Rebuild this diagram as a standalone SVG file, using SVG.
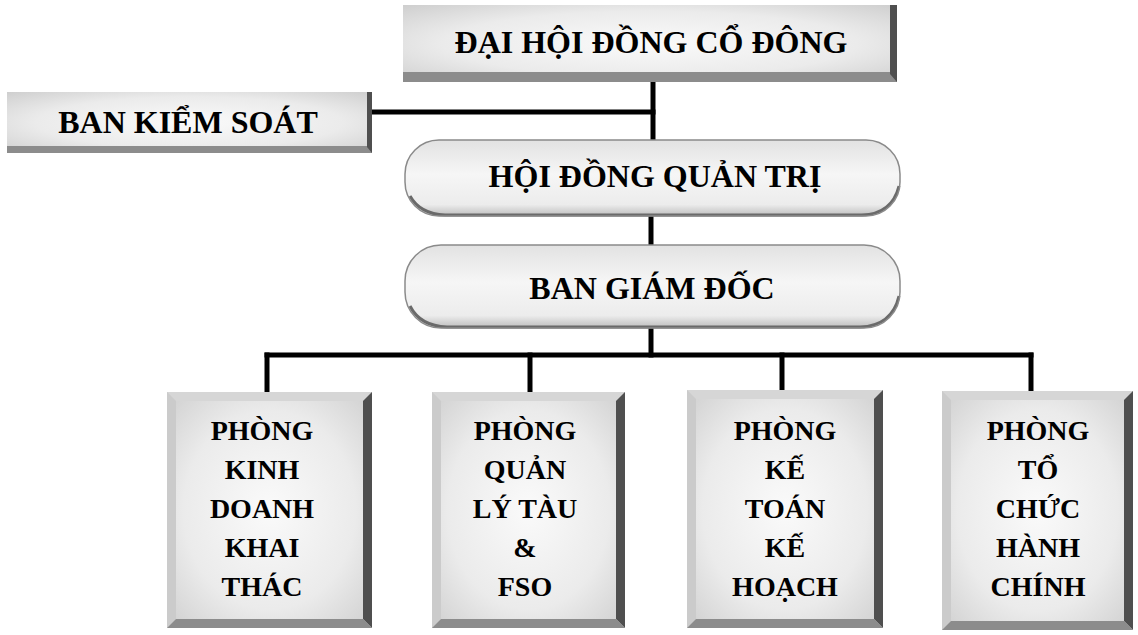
<svg xmlns="http://www.w3.org/2000/svg" width="1138" height="635" viewBox="0 0 1138 635">
  <defs>
    <radialGradient id="face" cx="50%" cy="50%" r="70%">
      <stop offset="0" stop-color="#fafafa"/>
      <stop offset="0.6" stop-color="#ebebeb"/>
      <stop offset="1" stop-color="#cfcfcf"/>
    </radialGradient>
    <linearGradient id="pillFace" x1="0" y1="0" x2="0" y2="1">
      <stop offset="0" stop-color="#e2e2e2"/>
      <stop offset="0.45" stop-color="#f6f6f6"/>
      <stop offset="0.85" stop-color="#ececec"/>
      <stop offset="1" stop-color="#bdbdbd"/>
    </linearGradient>
    <style>
      .t { font-family: "Liberation Serif", "Times New Roman", serif; font-weight: bold; fill: #000; text-anchor: middle; }
      .big { font-size: 32px; }
      .dept { font-size: 28px; }
      .wire { stroke: #000; stroke-width: 5; fill: none; stroke-linecap: square; }
      .bevTop { fill: #d6d6d6; }
      .bevLeft { fill: #cbcbcb; }
      .bevRight { fill: #4f4f4f; }
      .bevBottom { fill: #8c8c8c; }
      .pillEdge { fill: none; stroke: #8a8a8a; stroke-width: 1.5; }
      .pillShade { fill: none; stroke: #6a6a6a; stroke-width: 3; }
    </style>
  </defs>

  <rect width="1138" height="635" fill="#fff"/>

  <!-- connectors -->
  <g id="connectors">
    <path class="wire" d="M653 82 V140"/>
    <path class="wire" d="M372 112 H653"/>
    <path class="wire" d="M651 216 V245"/>
    <path class="wire" d="M651 328 V355"/>
    <path class="wire" d="M267 355 H1031"/>
    <path class="wire" d="M267 355 V392"/>
    <path class="wire" d="M530 355 V392"/>
    <path class="wire" d="M782 355 V390"/>
    <path class="wire" d="M1031 355 V391"/>
  </g>

  <!-- general shareholders meeting -->
  <g id="dhdcd">
    <rect x="403" y="5" width="494" height="77" fill="url(#face)"/>
    <rect x="403" y="72" width="494" height="10" class="bevBottom"/>
    <polygon points="890,5 897,5 897,82 890,74" class="bevRight"/>
    <text class="t big" x="651" y="53">ĐẠI HỘI ĐỒNG CỔ ĐÔNG</text>
  </g>

  <!-- supervisory board -->
  <g id="bks">
    <rect x="7" y="92" width="365" height="61" fill="url(#face)"/>
    <rect x="7" y="146" width="365" height="7" class="bevBottom"/>
    <polygon points="367,92 372,92 372,153 367,147" class="bevRight"/>
    <text class="t big" x="188" y="133">BAN KIỂM SOÁT</text>
  </g>

  <!-- board of directors -->
  <g id="hdqt">
    <rect x="405" y="140" width="495" height="76" rx="34" ry="34" fill="url(#pillFace)"/>
    <path class="pillShade" d="M410 196 Q420 214 445 215 H862 Q892 214 899 186"/>
    <rect x="405" y="140" width="495" height="76" rx="34" ry="34" class="pillEdge"/>
    <text class="t big" x="655" y="187">HỘI ĐỒNG QUẢN TRỊ</text>
  </g>

  <!-- management board -->
  <g id="bgd">
    <rect x="405" y="245" width="495" height="83" rx="36" ry="36" fill="url(#pillFace)"/>
    <path class="pillShade" d="M410 306 Q420 326 447 327 H860 Q892 326 899 296"/>
    <rect x="405" y="245" width="495" height="83" rx="36" ry="36" class="pillEdge"/>
    <text class="t big" x="652" y="299">BAN GIÁM ĐỐC</text>
  </g>

  <!-- departments -->
  <g id="p-kinhdoanh">
    <rect x="167" y="392" width="205" height="236" fill="url(#face)"/>
    <polygon points="167,392 372,392 363,401 176,401" class="bevTop"/>
    <polygon points="167,392 176,401 176,619 167,628" class="bevLeft"/>
    <polygon points="372,392 372,628 363,619 363,401" class="bevRight"/>
    <polygon points="167,628 176,619 363,619 372,628" class="bevBottom"/>
    <text class="t dept" x="262" y="440">PHÒNG</text>
    <text class="t dept" x="262" y="479">KINH</text>
    <text class="t dept" x="262" y="518">DOANH</text>
    <text class="t dept" x="262" y="557">KHAI</text>
    <text class="t dept" x="262" y="596">THÁC</text>
  </g>

  <g id="p-quanlytau">
    <rect x="432" y="392" width="193" height="236" fill="url(#face)"/>
    <polygon points="432,392 625,392 616,401 441,401" class="bevTop"/>
    <polygon points="432,392 441,401 441,619 432,628" class="bevLeft"/>
    <polygon points="625,392 625,628 616,619 616,401" class="bevRight"/>
    <polygon points="432,628 441,619 616,619 625,628" class="bevBottom"/>
    <text class="t dept" x="525" y="440">PHÒNG</text>
    <text class="t dept" x="525" y="479">QUẢN</text>
    <text class="t dept" x="525" y="518">LÝ TÀU</text>
    <text class="t dept" x="525" y="557">&amp;</text>
    <text class="t dept" x="525" y="596">FSO</text>
  </g>

  <g id="p-ketoan">
    <rect x="687" y="390" width="196" height="238" fill="url(#face)"/>
    <polygon points="687,390 883,390 874,399 696,399" class="bevTop"/>
    <polygon points="687,390 696,399 696,619 687,628" class="bevLeft"/>
    <polygon points="883,390 883,628 874,619 874,399" class="bevRight"/>
    <polygon points="687,628 696,619 874,619 883,628" class="bevBottom"/>
    <text class="t dept" x="785" y="440">PHÒNG</text>
    <text class="t dept" x="785" y="479">KẾ</text>
    <text class="t dept" x="785" y="518">TOÁN</text>
    <text class="t dept" x="785" y="557">KẾ</text>
    <text class="t dept" x="785" y="596">HOẠCH</text>
  </g>

  <g id="p-tochuc">
    <rect x="942" y="391" width="191" height="239" fill="url(#face)"/>
    <polygon points="942,391 1133,391 1124,400 951,400" class="bevTop"/>
    <polygon points="942,391 951,400 951,621 942,630" class="bevLeft"/>
    <polygon points="1133,391 1133,630 1124,621 1124,400" class="bevRight"/>
    <polygon points="942,630 951,621 1124,621 1133,630" class="bevBottom"/>
    <text class="t dept" x="1038" y="440">PHÒNG</text>
    <text class="t dept" x="1038" y="479">TỔ</text>
    <text class="t dept" x="1038" y="518">CHỨC</text>
    <text class="t dept" x="1038" y="557">HÀNH</text>
    <text class="t dept" x="1038" y="596">CHÍNH</text>
  </g>
</svg>
